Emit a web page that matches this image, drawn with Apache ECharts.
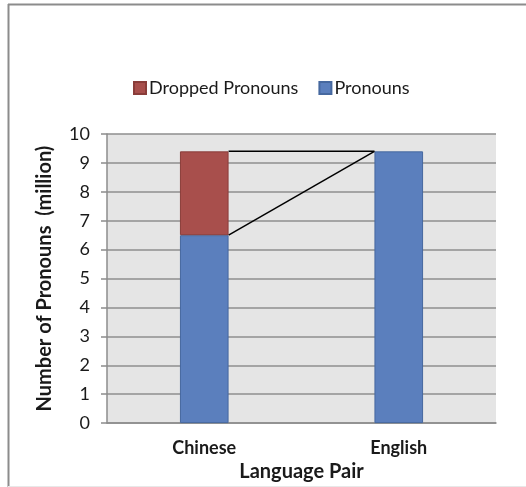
<!DOCTYPE html>
<html>
<head>
<meta charset="utf-8">
<script src="https://cdn.jsdelivr.net/npm/echarts@6/dist/echarts.min.js"></script>
<style>
html,body{margin:0;padding:0;background:#fff;}
#chart{width:526px;height:487px;}
</style>
</head>
<body>
<div id="chart"></div>
<script>
var categories = ['Chinese', 'English'];
var pronouns = [6.5, 9.4];
var droppedPronouns = [2.9, null];
var yTicks = [0, 1, 2, 3, 4, 5, 6, 7, 8, 9, 10];

var FONT = 'Lato';
var chart = echarts.init(document.getElementById('chart'), null, {renderer: 'canvas'});

function total(i) { return (pronouns[i] || 0) + (droppedPronouns[i] || 0); }

var option = {
  backgroundColor: '#ffffff',
  animation: false,
  textStyle: {fontFamily: FONT},
  legend: {
    data: ['Dropped Pronouns', 'Pronouns'],
    left: 128, top: 74,
    itemWidth: 12, itemHeight: 12, itemGap: 20,
    icon: 'rect',
    textStyle: {fontFamily: FONT, fontSize: 18, color: '#1a1a1a', padding: [0, 0, 0, -2]}
  },
  grid: {
    left: 107, top: 134, right: 30, bottom: 62,
    show: true, backgroundColor: '#e5e5e5', borderWidth: 0
  },
  xAxis: {
    type: 'category',
    data: categories,
    name: 'Language Pair',
    nameLocation: 'middle',
    nameGap: 38,
    nameTextStyle: {fontFamily: FONT, fontSize: 20, fontWeight: 'bold', color: '#1a1a1a'},
    axisLine: {lineStyle: {color: '#8c8c8c', width: 1.5}},
    axisTick: {show: false},
    axisLabel: {fontFamily: FONT, fontSize: 18, fontWeight: 'bold', color: '#1a1a1a', margin: 16}
  },
  yAxis: {
    type: 'value',
    min: yTicks[0], max: yTicks[yTicks.length - 1], interval: 1,
    name: 'Number of Pronouns  (million)',
    nameLocation: 'middle',
    nameRotate: 90,
    nameGap: 52,
    nameTextStyle: {fontFamily: FONT, fontSize: 20, fontWeight: 'bold', color: '#1a1a1a'},
    axisLine: {show: true, lineStyle: {color: '#8c8c8c', width: 1.5}},
    axisTick: {show: true, length: 6, lineStyle: {color: '#8c8c8c', width: 1.5}},
    axisLabel: {fontFamily: FONT, fontSize: 18, color: '#1a1a1a', margin: 17},
    splitLine: {lineStyle: {color: '#8e8e8e', width: 1.5}}
  },
  series: [
    {
      name: 'Pronouns', type: 'bar', stack: 's', barWidth: '25%',
      data: pronouns,
      itemStyle: {color: '#5b7fbd', borderColor: '#46689f', borderWidth: 1}
    },
    {
      name: 'Dropped Pronouns', type: 'bar', stack: 's', barWidth: '25%',
      data: droppedPronouns,
      itemStyle: {color: '#a84f4c', borderColor: '#8a3d3a', borderWidth: 1}
    },
    {
      name: 'connectors', type: 'custom', z: 10,
      data: [[0, 0]],
      renderItem: function (params, api) {
        var band = api.size([1, 0])[0];
        var hw = band * 0.125;
        var pTop = api.coord([0, total(0)]);
        var pMid = api.coord([0, pronouns[0]]);
        var pEng = api.coord([1, total(1)]);
        var style = {stroke: '#000', lineWidth: 1.5, fill: null};
        return {
          type: 'group',
          children: [
            {type: 'line', shape: {x1: pTop[0] + hw, y1: pTop[1], x2: pEng[0] - hw, y2: pEng[1]}, style: style},
            {type: 'line', shape: {x1: pMid[0] + hw, y1: pMid[1], x2: pEng[0] - hw, y2: pEng[1]}, style: style}
          ]
        };
      }
    }
  ],
  graphic: [
    {type: 'line', shape: {x1: 8, y1: 4.5, x2: 526, y2: 4.5}, style: {stroke: '#8c8c8c', lineWidth: 2}},
    {type: 'line', shape: {x1: 8.5, y1: 4, x2: 8.5, y2: 487}, style: {stroke: '#8c8c8c', lineWidth: 2}},
    {type: 'line', shape: {x1: 8, y1: 486.5, x2: 526, y2: 486.5}, style: {stroke: '#e8e8e8', lineWidth: 1}}
  ]
};
chart.setOption(option);
</script>
</body>
</html>
